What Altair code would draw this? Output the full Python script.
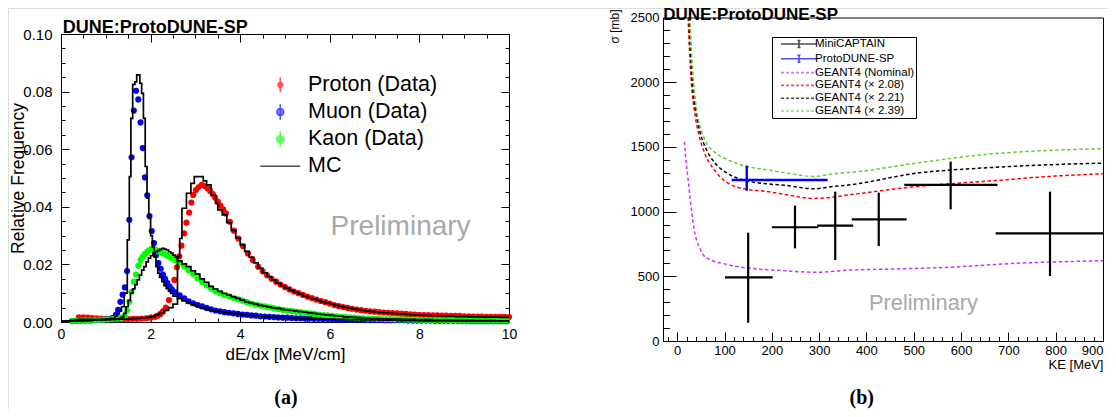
import altair as alt
import pandas as pd

FONT = "Liberation Sans"


def grid(start, step, n):
    return [round(start + step * i, 4) for i in range(n)]


# ============================ panel (a) : dE/dx ============================
PROTON_X = ([0.4, 0.5, 0.6, 0.7, 0.8, 0.9, 1.0, 1.1, 1.2, 1.3, 1.4, 1.5, 1.6, 1.7, 1.8, 1.9, 2.0, 2.1, 2.16,
             2.22, 2.28, 2.34, 2.41, 2.47, 2.53, 2.59, 2.64, 2.69, 2.75, 2.80, 2.86, 2.91, 2.95, 3.01, 3.07,
             3.14, 3.21, 3.27, 3.33, 3.39, 3.44, 3.50, 3.56, 3.62, 3.68, 3.77, 3.86, 3.96, 4.06, 4.17, 4.28, 4.40]
            + grid(4.5, 0.1, 56))
PROTON_Y = [0.0016, 0.0016, 0.0015, 0.0014, 0.0013, 0.0012, 0.0011, 0.0011, 0.0010, 0.0010, 0.0010, 0.0010,
            0.0011, 0.0011, 0.0012, 0.0013, 0.0015, 0.0018, 0.0022,
            0.0028, 0.0038, 0.0050, 0.0076, 0.0110, 0.0146, 0.0190, 0.0228, 0.0265, 0.0308, 0.0345, 0.0380,
            0.0415, 0.0441, 0.0458, 0.0468, 0.0476, 0.0472, 0.0464, 0.0455, 0.0444, 0.0432, 0.0418, 0.0404,
            0.0391, 0.0377, 0.0348, 0.0317, 0.0290, 0.0264, 0.0238, 0.0215, 0.0192,
            0.0176, 0.0162, 0.0150, 0.0140, 0.0130, 0.0121, 0.0113, 0.0106, 0.0100, 0.0094,
            0.0088, 0.0083, 0.0078, 0.0073, 0.0069, 0.0064, 0.0059, 0.0055, 0.0052, 0.0049,
            0.0046, 0.0043, 0.0041, 0.0039, 0.0037, 0.0036, 0.0034, 0.0033, 0.0032, 0.0031,
            0.0030, 0.0029, 0.0028, 0.0027, 0.0026, 0.0025, 0.0024, 0.0024, 0.0023, 0.0023,
            0.0022, 0.0022, 0.0021, 0.0021, 0.0021, 0.0020, 0.0020, 0.0019, 0.0019, 0.0019,
            0.0018, 0.0018, 0.0018, 0.0018, 0.0018, 0.0017]

MUON_X = grid(0.25, 0.1, 10) + grid(1.225, 0.05, 26) + grid(2.55, 0.1, 75)
MUON_Y = [0.0003, 0.0004, 0.0004, 0.0005, 0.0005, 0.0006, 0.0007, 0.0008, 0.0010, 0.0014,
          0.0025, 0.0042, 0.0070, 0.0095, 0.0120, 0.0177, 0.0355, 0.0572, 0.0734, 0.0803, 0.0773, 0.0693,
          0.0604, 0.0502, 0.0440, 0.0368, 0.0316, 0.0274, 0.0233, 0.0205, 0.0185, 0.0165, 0.0150, 0.0135,
          0.0123, 0.0113,
          0.0103, 0.0093, 0.0082, 0.0072, 0.0065, 0.0059, 0.0054, 0.0049, 0.0044, 0.0040,
          0.0037, 0.0034, 0.0032, 0.0030, 0.0028, 0.0026, 0.0025, 0.0023, 0.0022, 0.0020,
          0.0019, 0.0018, 0.0017, 0.0016, 0.0015, 0.0015, 0.0014, 0.0013, 0.0013, 0.0012,
          0.0012, 0.0011, 0.0011, 0.0010, 0.0010, 0.0010, 0.0009, 0.0009, 0.0009, 0.0008,
          0.0008, 0.0008, 0.0008, 0.0007, 0.0007, 0.0007, 0.0007, 0.0006, 0.0006, 0.0006,
          0.0006, 0.0006, 0.0005, 0.0005, 0.0005, 0.0005, 0.0005, 0.0005, 0.0004, 0.0004,
          0.0004, 0.0004, 0.0004, 0.0004, 0.0004, 0.0004, 0.0003, 0.0003, 0.0003, 0.0003,
          0.0003, 0.0003, 0.0003, 0.0003, 0.0003]

KAON_X = grid(0.25, 0.1, 11) + grid(1.325, 0.05, 24) + grid(2.55, 0.1, 75)
KAON_Y = [0.0004, 0.0005, 0.0005, 0.0006, 0.0006, 0.0007, 0.0007, 0.0008, 0.0009, 0.0010, 0.0012,
          0.0014, 0.0016, 0.0020, 0.0040, 0.0070, 0.0105, 0.0140, 0.0165, 0.0195, 0.0215, 0.0227, 0.0237,
          0.0244, 0.0250, 0.0254, 0.0254, 0.0250, 0.0246, 0.0242, 0.0238, 0.0235, 0.0231, 0.0227, 0.0222,
          0.0215, 0.0205, 0.0193, 0.0180, 0.0167, 0.0152, 0.0139, 0.0127, 0.0116, 0.0107,
          0.0100, 0.0094, 0.0089, 0.0084, 0.0079, 0.0074, 0.0069, 0.0064, 0.0060, 0.0057,
          0.0054, 0.0051, 0.0048, 0.0045, 0.0042, 0.0040, 0.0038, 0.0036, 0.0034, 0.0032,
          0.0030, 0.0028, 0.0026, 0.0024, 0.0023, 0.0021, 0.0020, 0.0018, 0.0017, 0.0016,
          0.0015, 0.0014, 0.0013, 0.0012, 0.0012, 0.0011, 0.0011, 0.0010, 0.0010, 0.0009,
          0.0009, 0.0009, 0.0008, 0.0008, 0.0008, 0.0007, 0.0007, 0.0007, 0.0007, 0.0007,
          0.0006, 0.0006, 0.0006, 0.0006, 0.0006, 0.0006, 0.0005, 0.0005, 0.0005, 0.0005,
          0.0005, 0.0005, 0.0005, 0.0005, 0.0005]

# MC histograms: bin low edges and contents (step-after)
MC_PROTON_X = grid(0.0, 0.1, 26) + [2.6, 2.65, 2.7, 2.8, 2.9, 2.975, 3.175, 3.25, 3.35, 3.45, 3.5] + grid(3.6, 0.1, 65)
MC_PROTON_Y = [0.0002, 0.0004, 0.0006, 0.0008, 0.0009, 0.0009, 0.0009, 0.0009, 0.0009, 0.0009, 0.0009,
               0.0009, 0.0009, 0.0010, 0.0010, 0.0011, 0.0012, 0.0013, 0.0014, 0.0016, 0.0019, 0.0025,
               0.0030, 0.0040, 0.0050, 0.0062,
               0.0227, 0.0290, 0.0395, 0.0447, 0.0481, 0.0505, 0.0490, 0.0476, 0.0441, 0.0412, 0.0389,
               0.0372, 0.0345, 0.0318, 0.0292, 0.0268, 0.0245, 0.0225, 0.0205, 0.0187, 0.0171,
               0.0158, 0.0146, 0.0135, 0.0126, 0.0118, 0.0110, 0.0103, 0.0097, 0.0091, 0.0085,
               0.0080, 0.0075, 0.0070, 0.0066, 0.0062, 0.0058, 0.0054, 0.0051, 0.0048, 0.0045,
               0.0043, 0.0040, 0.0038, 0.0036, 0.0035, 0.0033, 0.0032, 0.0030, 0.0029, 0.0028,
               0.0027, 0.0026, 0.0025, 0.0024, 0.0024, 0.0023, 0.0022, 0.0022, 0.0021, 0.0021,
               0.0020, 0.0020, 0.0019, 0.0019, 0.0019, 0.0018, 0.0018, 0.0018, 0.0017, 0.0017,
               0.0017, 0.0017, 0.0016, 0.0016, 0.0016]

MC_MUON_X = ([0.0, 0.1, 0.2, 0.3, 0.4, 0.5, 0.6, 0.7, 0.8, 0.9, 1.0, 1.1, 1.2, 1.25, 1.3, 1.35, 1.41, 1.48,
              1.525, 1.56, 1.60, 1.65, 1.69, 1.76, 1.80, 1.84, 1.88, 1.92, 1.96, 2.00, 2.04, 2.08, 2.12,
              2.16, 2.20, 2.25, 2.30, 2.35, 2.40, 2.45] + grid(2.5, 0.1, 76))
MC_MUON_Y = [0.0002, 0.0003, 0.0003, 0.0004, 0.0004, 0.0005, 0.0005, 0.0006, 0.0007, 0.0008, 0.0010, 0.0013,
             0.0020, 0.0028, 0.0038, 0.0053,
             0.0100, 0.0285, 0.0505, 0.0707, 0.0825, 0.0834, 0.0858, 0.0829, 0.0794, 0.0707,
             0.0540, 0.0430, 0.0360, 0.0300, 0.0260, 0.0225, 0.0192, 0.0170, 0.0155,
             0.0140, 0.0126, 0.0116, 0.0107, 0.0099,
             0.0090, 0.0081, 0.0073, 0.0066, 0.0060, 0.0055, 0.0050, 0.0046, 0.0042, 0.0039,
             0.0036, 0.0033, 0.0031, 0.0029, 0.0027, 0.0025, 0.0024, 0.0022, 0.0021, 0.0020,
             0.0019, 0.0018, 0.0017, 0.0016, 0.0015, 0.0015, 0.0014, 0.0013, 0.0013, 0.0012,
             0.0012, 0.0011, 0.0011, 0.0010, 0.0010, 0.0010, 0.0009, 0.0009, 0.0009, 0.0008,
             0.0008, 0.0008, 0.0007, 0.0007, 0.0007, 0.0007, 0.0006, 0.0006, 0.0006, 0.0006,
             0.0005, 0.0005, 0.0005, 0.0005, 0.0005, 0.0004, 0.0004, 0.0004, 0.0004, 0.0004,
             0.0004, 0.0004, 0.0004, 0.0003, 0.0003, 0.0003, 0.0003, 0.0003, 0.0003, 0.0003,
             0.0003, 0.0003, 0.0003, 0.0003, 0.0003, 0.0003]

MC_KAON_X = grid(0.0, 0.1, 13) + grid(1.3, 0.05, 26) + grid(2.6, 0.1, 75)
MC_KAON_Y = [0.0002, 0.0003, 0.0004, 0.0004, 0.0005, 0.0005, 0.0006, 0.0006, 0.0007, 0.0007, 0.0008, 0.0009,
             0.0010,
             0.0013, 0.0018, 0.0030, 0.0053, 0.0075, 0.0100, 0.0115, 0.0130, 0.0146, 0.0163, 0.0180, 0.0192,
             0.0209, 0.0222, 0.0230, 0.0239, 0.0243, 0.0248, 0.0252, 0.0256, 0.0253, 0.0250, 0.0244, 0.0239,
             0.0232, 0.0225,
             0.0212, 0.0202, 0.0192, 0.0178, 0.0166, 0.0150, 0.0138, 0.0124, 0.0114, 0.0106,
             0.0099, 0.0093, 0.0087, 0.0082, 0.0076, 0.0070, 0.0066, 0.0062, 0.0058, 0.0055,
             0.0052, 0.0049, 0.0047, 0.0044, 0.0042, 0.0040, 0.0038, 0.0036, 0.0034, 0.0032,
             0.0030, 0.0028, 0.0026, 0.0024, 0.0023, 0.0021, 0.0020, 0.0018, 0.0017, 0.0016,
             0.0015, 0.0014, 0.0013, 0.0012, 0.0012, 0.0011, 0.0011, 0.0010, 0.0010, 0.0010,
             0.0009, 0.0009, 0.0009, 0.0008, 0.0008, 0.0008, 0.0008, 0.0007, 0.0007, 0.0007,
             0.0007, 0.0006, 0.0006, 0.0006, 0.0006, 0.0006, 0.0005, 0.0005, 0.0005, 0.0005,
             0.0005, 0.0004, 0.0004, 0.0004, 0.0004]

LEGEND_A = ["Proton (Data)", "Muon (Data)", "Kaon (Data)", "MC"]
COLORS_A = ["#ff0000", "#0000ff", "#00ff00", "#000000"]
SHAPES_A = ["M0,-2.1V2.1M-0.65,0A0.65,0.65 0 1,0 0.65,0A0.65,0.65 0 1,0 -0.65,0Z",
            "M0,-2.2V2.2M-1,0A1,1 0 1,0 1,0A1,1 0 1,0 -1,0Z",
            "M0,-2.2V2.2M-1,0A1,1 0 1,0 1,0A1,1 0 1,0 -1,0Z",
            "M-5.7,0H5.7"]

TITLE_A = ["DUNE:ProtoDUNE-SP"]
TITLE_A_POS = ([0.04], [0.1005])
PRELIM_A_POS = ([7.58], [0.0302])
LABEL_A = ["(a)"]
LABEL_A_POS = ([5.02], [-0.0283])

# ============================ panel (b) : cross section ============================
MINI_X = [150, 249, 334, 426, 578, 788]
MINI_XLO = [101, 200, 296, 369, 480, 673]
MINI_XHI = [202, 298, 372, 485, 677, 900]
MINI_Y = [492, 879, 891, 940, 1206, 832]
MINI_YLO = [141, 716, 626, 734, 1018, 502]
MINI_YHI = [837, 1046, 1154, 1146, 1386, 1154]

PD_X = [147]
PD_XLO = [115]
PD_XHI = [318]
PD_Y = [1244]
PD_YLO = [1161]
PD_YHI = [1355]

NOM_KE = [15, 20, 24, 27, 31, 36, 41, 48, 55, 66, 76, 100, 119, 154, 223, 294, 364, 450, 505, 576, 650, 718, 800, 900]
NOM_XS = [1540, 1347, 1220, 1115, 987, 858, 781, 716, 665, 634, 618, 596, 580, 562, 544, 531, 548, 556, 561, 570,
          586, 601, 611, 621]
R208_KE = [23, 26, 30, 36, 45, 58, 78, 104, 147, 189, 231, 288, 330, 365, 386, 506, 647, 788, 900]
R208_XS = [2500, 2252, 1994, 1788, 1608, 1453, 1324, 1228, 1172, 1156, 1130, 1102, 1112, 1130, 1140, 1194, 1233,
           1272, 1293]
R221_KE = [25, 28, 32, 39, 48, 62, 80, 105, 147, 189, 231, 288, 330, 365, 506, 647, 788, 900]
R221_XS = [2500, 2250, 1994, 1788, 1620, 1478, 1375, 1298, 1238, 1215, 1202, 1176, 1194, 1207, 1297, 1337, 1362,
           1375]
R239_KE = [27, 30, 35, 42, 50, 62, 80, 105, 147, 189, 231, 288, 344, 365, 506, 647, 788, 900]
R239_XS = [2500, 2250, 1994, 1762, 1640, 1530, 1455, 1404, 1349, 1324, 1298, 1272, 1298, 1303, 1375, 1440, 1473,
           1486]

LEGEND_B = ["MiniCAPTAIN", "ProtoDUNE-SP", "GEANT4 (Nominal)", "GEANT4 (\u00d7 2.08)", "GEANT4 (\u00d7 2.21)",
            "GEANT4 (\u00d7 2.39)"]
COLORS_B = ["#000000", "#0000ff", "#cc33ff", "#ff0000", "#000000", "#66cc33"]
ERR_PATH = "M-3.6,0H3.6M0,-0.7V0.7M-0.3,-0.7H0.3M-0.3,0.7H0.3"
LINE_PATH = "M-3.6,0H3.6"
SHAPES_B = [ERR_PATH, ERR_PATH, LINE_PATH, LINE_PATH, LINE_PATH, LINE_PATH]
DASHES_B = [[1, 0], [1, 0], [3, 2], [3, 2], [3, 2], [3, 2]]

TITLE_B = ["DUNE:ProtoDUNE-SP"]
TITLE_B_POS = ([-29.4], [2484])
PRELIM_B_POS = ([520.6], [240])
LABEL_B = ["(b)"]
LABEL_B_POS = ([390], [-483])

# ============================ geometry ============================
W, H = 1100, 401
LX_DOM, LX_RNG = [0, 10], [53, 501]
LY_DOM, LY_RNG = [0, 0.1], [314, 26]
RX_DOM, RX_RNG = [-30, 900], [655, 1095]
RY_DOM, RY_RNG = [0, 2500], [333, 9.5]


def sc(dom, rng):
    return alt.Scale(domain=dom, range=rng, nice=False, zero=False)


def df_from(**cols):
    keys = list(cols)
    rows = list(zip(*[cols[k] for k in keys]))
    return pd.DataFrame(rows, columns=keys)


def tick_axis(orient, offset, values, size, domain=False, ticks=True):
    return alt.Axis(orient=orient, offset=offset, values=values, ticks=ticks, tickSize=size,
                    tickColor="black", tickWidth=1, labels=False, domain=domain,
                    domainColor="black", domainWidth=1, grid=False, title=None)


def axis_layer(xdom, xrng, ydom, yrng, xaxis, yaxis):
    d = pd.DataFrame({"x": xdom, "y": ydom})
    return alt.Chart(d).mark_point(size=0, opacity=0).encode(
        x=alt.X("x:Q", scale=sc(xdom, xrng), axis=xaxis),
        y=alt.Y("y:Q", scale=sc(ydom, yrng), axis=yaxis),
    )


# ---------------- panel (a) layers ----------------
LX_AXIS = alt.Axis(orient="bottom", offset=-(H - 314), values=[0, 2, 4, 6, 8, 10], format="d",
                   ticks=False, domain=True, domainColor="black", domainWidth=1, grid=False,
                   labelFont=FONT, labelFontSize=14, labelColor="black", labelPadding=5,
                   labelFlush=False, labelOverlap=False,
                   title="dE/dx [MeV/cm]", titleFont=FONT, titleFontSize=17, titleFontWeight="normal",
                   titleColor="black", titleBaseline="alphabetic", titleY=37)
LY_AXIS = alt.Axis(orient="left", offset=-53, values=[0, 0.02, 0.04, 0.06, 0.08, 0.1], format=".2f",
                   ticks=False, domain=True, domainColor="black", domainWidth=1, grid=False,
                   labelFont=FONT, labelFontSize=15, labelColor="black", labelPadding=9,
                   labelOverlap=False,
                   title="Relative Frequency", titleFont=FONT, titleFontSize=17.5, titleFontWeight="normal",
                   titleColor="black", titleBaseline="alphabetic", titleX=-38)


def lx(field="x"):
    return alt.X(f"{field}:Q", scale=sc(LX_DOM, LX_RNG), axis=LX_AXIS)


def ly(field="y"):
    return alt.Y(f"{field}:Q", scale=sc(LY_DOM, LY_RNG), axis=LY_AXIS)


def points(xs, ys, color):
    return alt.Chart(df_from(x=xs, y=ys)).mark_circle(size=38, color=color, opacity=1).encode(x=lx(), y=ly())


mc_df = pd.concat([
    df_from(x=MC_PROTON_X, y=MC_PROTON_Y).assign(s="p"),
    df_from(x=MC_MUON_X, y=MC_MUON_Y).assign(s="m"),
    df_from(x=MC_KAON_X, y=MC_KAON_Y).assign(s="k"),
])
mc_lines = alt.Chart(mc_df).mark_line(color="black", strokeWidth=1.7, interpolate="step-after").encode(
    x=lx(), y=ly(), detail="s:N")

LEG_A = alt.Legend(title=None, orient="none", legendX=261.5, legendY=66, labelFont=FONT, labelFontSize=21.5,
                   labelColor="black", symbolSize=49, symbolStrokeWidth=1.5, labelOffset=17, rowPadding=4.2,
                   padding=0)
leg_a = alt.Chart(pd.DataFrame({"name": LEGEND_A})).mark_point(size=0, filled=True).encode(
    fill=alt.Fill("name:N", scale=alt.Scale(domain=LEGEND_A, range=COLORS_A), legend=LEG_A),
    stroke=alt.Stroke("name:N", scale=alt.Scale(domain=LEGEND_A, range=COLORS_A), legend=LEG_A),
    shape=alt.Shape("name:N", scale=alt.Scale(domain=LEGEND_A, range=SHAPES_A), legend=LEG_A),
)

title_a = alt.Chart(df_from(x=TITLE_A_POS[0], y=TITLE_A_POS[1], t=TITLE_A)).mark_text(
    font=FONT, fontSize=18, fontWeight="bold", color="black", align="left", baseline="alphabetic").encode(
    x=lx(), y=ly(), text="t:N")
prelim_a = alt.Chart(df_from(x=PRELIM_A_POS[0], y=PRELIM_A_POS[1], t=["Preliminary"])).mark_text(
    font=FONT, fontSize=28, color="#a9a9a9", align="center", baseline="alphabetic").encode(
    x=lx(), y=ly(), text="t:N")
lab_a = alt.Chart(df_from(x=LABEL_A_POS[0], y=LABEL_A_POS[1], t=LABEL_A)).mark_text(
    font="Liberation Serif", fontSize=20, fontWeight="bold", color="black", align="center",
    baseline="alphabetic").encode(x=lx(), y=ly(), text="t:N")

panel_a = alt.layer(points(PROTON_X, PROTON_Y, "#ff0000"), points(MUON_X, MUON_Y, "#0000ff"),
                    points(KAON_X, KAON_Y, "#00ff00"), mc_lines, title_a, prelim_a, lab_a, leg_a)

LX_MAJ = [0, 2, 4, 6, 8, 10]
LX_MIN = grid(0, 0.5, 21)
LY_MAJ = [0, 0.02, 0.04, 0.06, 0.08, 0.1]
LY_MIN = grid(0, 0.005, 21)
ticks_a = [
    axis_layer(LX_DOM, LX_RNG, LY_DOM, LY_RNG, tick_axis("top", -314, LX_MAJ, 8),
               tick_axis("right", -(W - 53), LY_MAJ, 8)),
    axis_layer(LX_DOM, LX_RNG, LY_DOM, LY_RNG, tick_axis("top", -314, LX_MIN, 4),
               tick_axis("right", -(W - 53), LY_MIN, 4)),
    axis_layer(LX_DOM, LX_RNG, LY_DOM, LY_RNG, tick_axis("bottom", -(H - 26), LX_MAJ, 8, domain=True),
               tick_axis("left", -501, LY_MAJ, 8, domain=True)),
    axis_layer(LX_DOM, LX_RNG, LY_DOM, LY_RNG, tick_axis("bottom", -(H - 26), LX_MIN, 4),
               tick_axis("left", -501, LY_MIN, 4)),
]

# ---------------- panel (b) layers ----------------
RX_AXIS = alt.Axis(orient="bottom", offset=-(H - 333), values=grid(0, 100, 10), format="d",
                   ticks=False, domain=True, domainColor="black", domainWidth=1, grid=False,
                   labelFont=FONT, labelFontSize=13, labelColor="black", labelPadding=3,
                   labelFlush=True, labelOverlap=False,
                   title="KE [MeV]", titleFont=FONT, titleFontSize=13, titleFontWeight="normal",
                   titleColor="black", titleAnchor="end", titleBaseline="alphabetic", titleY=27)
RY_AXIS = alt.Axis(orient="left", offset=-655, values=grid(0, 500, 6), format="d",
                   ticks=False, domain=True, domainColor="black", domainWidth=1, grid=False,
                   labelFont=FONT, labelFontSize=13, labelColor="black", labelPadding=4,
                   labelOverlap=False,
                   title="\u03c3 [mb]", titleFont=FONT, titleFontSize=12, titleFontWeight="normal",
                   titleColor="black", titleAnchor="end", titleBaseline="alphabetic", titleX=-45, titleY=1)


def rx(field="x"):
    return alt.X(f"{field}:Q", scale=sc(RX_DOM, RX_RNG), axis=RX_AXIS)


def ry(field="y"):
    return alt.Y(f"{field}:Q", scale=sc(RY_DOM, RY_RNG), axis=RY_AXIS)


curve_df = pd.concat([
    df_from(x=NOM_KE, y=NOM_XS).assign(name=LEGEND_B[2]),
    df_from(x=R208_KE, y=R208_XS).assign(name=LEGEND_B[3]),
    df_from(x=R221_KE, y=R221_XS).assign(name=LEGEND_B[4]),
    df_from(x=R239_KE, y=R239_XS).assign(name=LEGEND_B[5]),
])
curves = alt.Chart(curve_df).mark_line(strokeDash=[3.5, 2.5], strokeWidth=1.5, interpolate="monotone",
                                       clip=True).encode(
    x=rx(), y=ry(),
    color=alt.Color("name:N", scale=alt.Scale(domain=LEGEND_B[2:], range=COLORS_B[2:]), legend=None))


def crosses(xs, xlo, xhi, ys, ylo, yhi, color, width):
    d = df_from(x=xs, xlo=xlo, xhi=xhi, y=ys, ylo=ylo, yhi=yhi)
    h = alt.Chart(d).mark_rule(color=color, strokeWidth=width).encode(x=rx("xlo"), x2="xhi:Q", y=ry())
    v = alt.Chart(d).mark_rule(color=color, strokeWidth=width).encode(x=rx(), y=ry("ylo"), y2="yhi:Q")
    return [h, v]


LEG_B = alt.Legend(title=None, orient="none", legendX=764, legendY=29, labelFont=FONT, labelFontSize=11.5,
                   labelColor="black", symbolSize=100, symbolStrokeWidth=1.6, symbolOffset=20,
                   labelOffset=10, rowPadding=0.8, padding=1, strokeColor="black", fillColor="white")
leg_b = alt.Chart(pd.DataFrame({"name": LEGEND_B})).mark_point(size=0, filled=False).encode(
    stroke=alt.Stroke("name:N", scale=alt.Scale(domain=LEGEND_B, range=COLORS_B), legend=LEG_B),
    shape=alt.Shape("name:N", scale=alt.Scale(domain=LEGEND_B, range=SHAPES_B), legend=LEG_B),
    strokeDash=alt.StrokeDash("name:N", scale=alt.Scale(domain=LEGEND_B, range=DASHES_B), legend=LEG_B),
)

title_b = alt.Chart(df_from(x=TITLE_B_POS[0], y=TITLE_B_POS[1], t=TITLE_B)).mark_text(
    font=FONT, fontSize=17, fontWeight="bold", color="black", align="left", baseline="alphabetic").encode(
    x=rx(), y=ry(), text="t:N")
prelim_b = alt.Chart(df_from(x=PRELIM_B_POS[0], y=PRELIM_B_POS[1], t=["Preliminary"])).mark_text(
    font=FONT, fontSize=21.8, color="#a9a9a9", align="center", baseline="alphabetic").encode(
    x=rx(), y=ry(), text="t:N")
lab_b = alt.Chart(df_from(x=LABEL_B_POS[0], y=LABEL_B_POS[1], t=LABEL_B)).mark_text(
    font="Liberation Serif", fontSize=20, fontWeight="bold", color="black", align="center",
    baseline="alphabetic").encode(x=rx(), y=ry(), text="t:N")

panel_b = alt.layer(curves,
                    *crosses(MINI_X, MINI_XLO, MINI_XHI, MINI_Y, MINI_YLO, MINI_YHI, "black", 2.2),
                    *crosses(PD_X, PD_XLO, PD_XHI, PD_Y, PD_YLO, PD_YHI, "#0000ff", 2.4),
                    title_b, prelim_b, lab_b, leg_b)

RX_MAJ = grid(0, 100, 10)
RX_MIN = grid(-20, 20, 47)
RY_MAJ = grid(0, 500, 6)
RY_MIN = grid(0, 100, 26)
ticks_b = [
    axis_layer(RX_DOM, RX_RNG, RY_DOM, RY_RNG, tick_axis("top", -333, RX_MAJ, 9),
               tick_axis("right", -(W - 655), RY_MAJ, 13)),
    axis_layer(RX_DOM, RX_RNG, RY_DOM, RY_RNG, tick_axis("top", -333, RX_MIN, 4.5),
               tick_axis("right", -(W - 655), RY_MIN, 6.5)),
    axis_layer(RX_DOM, RX_RNG, RY_DOM, RY_RNG,
               tick_axis("bottom", -(H - 9.5), RX_MAJ, 0, domain=True, ticks=False),
               tick_axis("left", -1095, RY_MAJ, 0, domain=True, ticks=False)),
]

chart = alt.layer(panel_a, *ticks_a, panel_b, *ticks_b).resolve_scale(
    x="independent", y="independent", color="independent", fill="independent", stroke="independent",
    shape="independent", strokeDash="independent",
).resolve_axis(x="independent", y="independent").properties(
    width=W, height=H, autosize=alt.AutoSizeParams(type="none"), padding=0,
).configure_view(stroke=None).configure(background="white")

chart.save("out.html", embed_options={"renderer": "svg", "actions": False})
